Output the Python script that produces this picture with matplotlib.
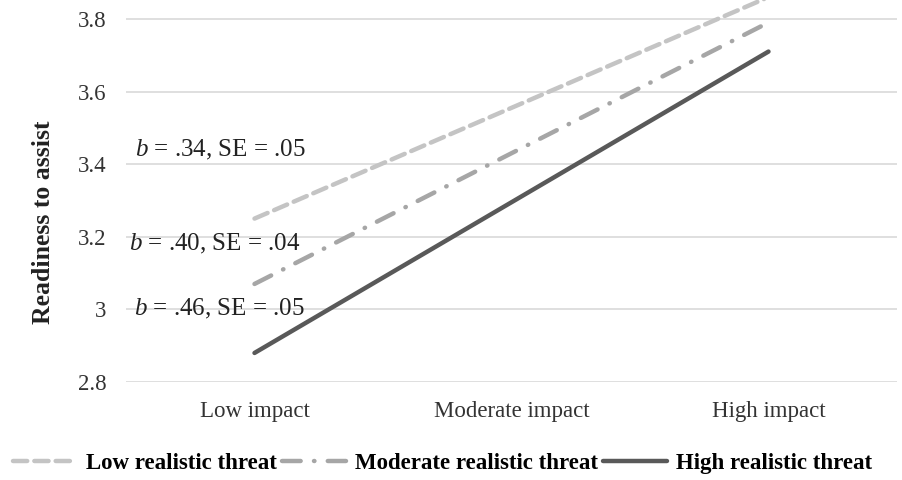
import numpy as np
import matplotlib
matplotlib.use("Agg")
import matplotlib.pyplot as plt

plt.rcParams["font.family"] = ["Liberation Serif", "DejaVu Serif"]
plt.rcParams["mathtext.fontset"] = "custom"
plt.rcParams["mathtext.rm"] = "Liberation Serif"
plt.rcParams["mathtext.it"] = "Liberation Serif:italic"

# data
impact = ["Low impact", "Moderate impact", "High impact"]
low_threat = [3.25, 3.555, 3.86]
moderate_threat = [3.07, 3.43, 3.79]
high_threat = [2.88, 3.295, 3.71]
series_names = ["Low realistic threat", "Moderate realistic threat", "High realistic threat"]
slope_text = ["$b$ = .34, SE = .05", "$b$ = .40, SE = .04", "$b$ = .46, SE = .05"]
slope_x = [-0.465, -0.49, -0.47]
slope_y = [3.44, 3.18, 3.0]
yticks = [2.8, 3.0, 3.2, 3.4, 3.6, 3.8]
ytick_labels = ["2.8", "3", "3.2", "3.4", "3.6", "3.8"]

fig = plt.figure(figsize=(9.03, 4.8), dpi=100)
ax = fig.add_axes([126 / 903, 98 / 480, 771 / 903, 382 / 480])

x = np.arange(len(impact))
ax.plot(x, low_threat, color="#c4c4c4", lw=3.2, dashes=(3.2, 1.6),
        dash_capstyle="round", solid_capstyle="round", label=series_names[0])
ax.plot(x, moderate_threat, color="#a6a6a6", lw=3.2, dashes=(4.2, 3.0, 0.1, 3.0),
        dash_capstyle="round", solid_capstyle="round", label=series_names[1])
ax.plot(x, high_threat, color="#595959", lw=3.2,
        solid_capstyle="round", label=series_names[2])

for t, xx, yy in zip(slope_text, slope_x, slope_y):
    ax.text(xx, yy, t, fontsize=18, va="center", ha="left", color="#222222")

ax.set_xlim(-0.5, 2.5)
ax.set_ylim(2.8, 3.852)
ax.set_xticks(x, labels=impact)
ax.set_yticks(yticks, labels=ytick_labels)
ax.tick_params(axis="both", length=0, labelsize=16.5, colors="#333333")
ax.tick_params(axis="x", pad=14)
ax.tick_params(axis="y", pad=14)
ax.grid(axis="y", color="#d9d9d9", lw=1.2)
ax.set_axisbelow(True)
for s in ax.spines.values():
    s.set_visible(False)

fig.text(44 / 903, 1 - 222 / 480, "Readiness to assist", rotation=90,
         fontsize=18.5, fontweight="bold", va="center", ha="center", color="#222222")

fig.legend(loc="center", bbox_to_anchor=(0.49, 1 - 463 / 480), ncol=3, frameon=False,
           prop={"weight": "bold", "size": 16.5}, handlelength=2.8, handletextpad=0.4,
           columnspacing=0.2)

fig.savefig("out.png", dpi=100)
